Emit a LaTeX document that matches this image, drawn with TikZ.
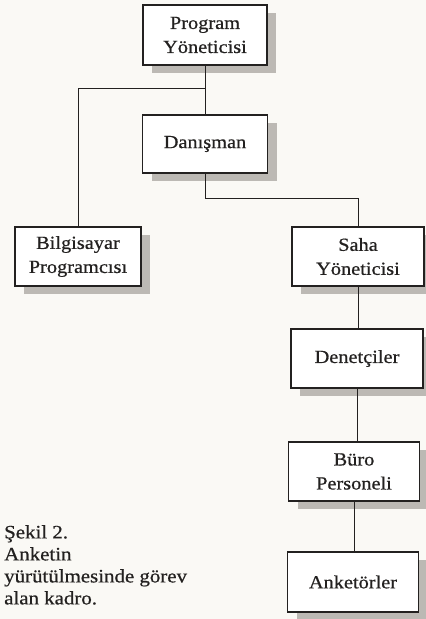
\documentclass[tikz,border=0pt]{standalone}
\usepackage{fontspec}
\setmainfont[FakeStretch=1.1, FakeBold=0.6]{Liberation Serif}
\usepackage{tikz}
\usetikzlibrary{shadows}
\definecolor{paper}{RGB}{250,249,245}
\definecolor{shade}{RGB}{188,185,180}
\definecolor{ink}{RGB}{35,33,32}
\tikzset{unit/.style={draw=ink, line width=1.2pt, fill=white, text=ink,
    minimum height=59pt, align=center, inner sep=0pt,
    font=\fontsize{18.5}{24}\selectfont,
    drop shadow={shadow xshift=9pt, shadow yshift=-8pt, fill=shade, opacity=1}}}
\tikzset{link/.style={draw=ink, line width=1pt}}

\begin{document}
\begin{tikzpicture}[x=1pt,y=-1pt]
    \fill[paper] (0,0) rectangle (426,619);
    \useasboundingbox (0,0) rectangle (426,619);

    \node[unit, minimum width=124pt, minimum height=60pt] (prog) at (205,35) {Program\\Yöneticisi};
    \node[unit, minimum width=125pt, minimum height=58pt] (dan) at (205,144) {Danışman};

    \node[unit, minimum width=126pt] (bilg) at (78,256.5) {Bilgisayar\\Programcısı};
    \node[unit, minimum width=132pt] (saha) at (358,256.5) {Saha\\Yöneticisi};
    \node[unit, minimum width=132pt] (denet) at (357,358.5) {Denetçiler};
    \node[unit, minimum width=131pt] (buro) at (354,471.5) {Büro\\Personeli};
    \node[unit, minimum width=131pt, minimum height=60pt] (anket) at (353,582) {Anketörler};

    \node[anchor=north west, align=left, inner sep=0pt, text=ink,
      font=\fontsize{19}{22}\selectfont] (note) at (4,525)
      {Şekil 2.\\Anketin\\yürütülmesinde görev\\alan kadro.};

    \coordinate (split) at (205,88);
    \draw[link] (prog.south) -- (dan.north);
    \draw[link] (split) -| (bilg.north);
    \draw[link] (dan.south) -- ++(0,25) -| (saha.north);
    \draw[link] (saha.south) -- (saha.south |- denet.north);
    \draw[link] (denet.south) -- (denet.south |- buro.north);
    \draw[link] (buro.south) -- (buro.south |- anket.north);
\end{tikzpicture}
\end{document}
